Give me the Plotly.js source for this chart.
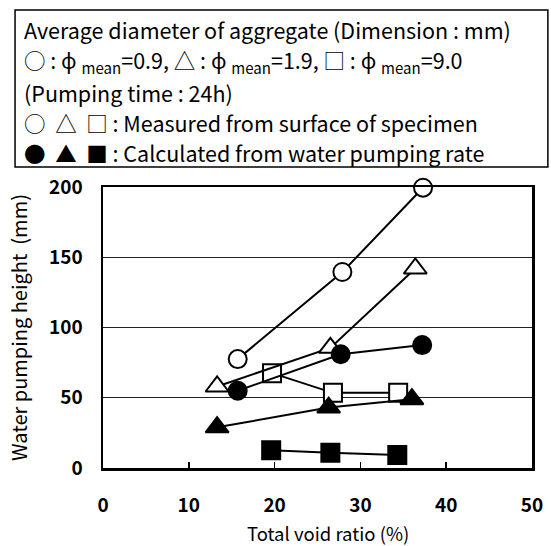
<!DOCTYPE html>
<html>
<head>
<meta charset="utf-8">
<script src="https://cdn.plot.ly/plotly-3.0.1.min.js"></script>
<style>
  html, body { margin: 0; padding: 0; background: #fff; }
  #chart { width: 551px; height: 546px; }
</style>
</head>
<body>
<div id="chart"></div>
<script>
// Total void ratio (%) and water pumping height (mm) after 24 h of pumping
const measured09X = [15.7, 27.9, 37.3];
const measured09Y = [77.5, 139.5, 199.5];
const measured19X = [13.3, 26.5, 36.4];
const measured19Y = [58, 85.5, 142];
const measured90X = [19.7, 26.8, 34.4];
const measured90Y = [67.5, 53.5, 53.5];
const calculated09X = [15.7, 27.7, 37.2];
const calculated09Y = [55, 81, 87.5];
const calculated19X = [13.3, 26.3, 36.0];
const calculated19Y = [29, 43, 49];
const calculated90X = [19.6, 26.5, 34.3];
const calculated90Y = [12.7, 10.8, 9.3];

const xTicks = [0, 10, 20, 30, 40, 50];
const yTicks = [0, 50, 100, 150, 200];

const xTitle = "Total void ratio (%)";
const yTitle = "Water pumping height  (mm)";

const legendLines = [
  "Average diameter of aggregate (Dimension : mm)",
  "○ : ϕ <sub>mean</sub>=0.9, △ : ϕ <sub>mean</sub>=1.9, □ : ϕ <sub>mean</sub>=9.0",
  "(Pumping time : 24h)",
  "○\u00a0\u00a0△\u00a0\u00a0□ : Measured from surface of specimen",
  "●\u00a0\u00a0▲\u00a0\u00a0■ : Calculated from water pumping rate"
];

const FONT = "'Noto Sans CJK JP', 'Noto Sans', sans-serif";

function series(x, y, symbol, filled) {
  return {
    x: x, y: y, type: "scatter", mode: "lines+markers",
    line: { color: "#000", width: 2 },
    marker: {
      symbol: symbol,
      size: symbol === "triangle-up" ? 20 : 18,
      color: filled ? "#000" : "#fff",
      line: { color: "#000", width: 2 }
    },
    hoverinfo: "x+y", showlegend: false, cliponaxis: false
  };
}

const traces = [
  series(measured90X, measured90Y, "square", false),
  series(measured19X, measured19Y, "triangle-up", false),
  series(measured09X, measured09Y, "circle", false),
  series(calculated90X, calculated90Y, "square", true),
  series(calculated19X, calculated19Y, "triangle-up", true),
  series(calculated09X, calculated09Y, "circle", true)
];

// legend box rows (paper coordinates relative to the plot area)
const rowY = [1.559, 1.447, 1.338, 1.228, 1.121];
const annotations = legendLines.map((t, i) => ({
  text: t, xref: "paper", yref: "paper",
  x: -0.188, y: rowY[i], xanchor: "left", yanchor: "middle",
  showarrow: false, font: { family: FONT, size: 21.5, color: "#000" }
}));

// x axis title, set a little right of the plot centre
annotations.push({
  text: xTitle, xref: "paper", yref: "paper",
  x: 0.524, y: -0.232, xanchor: "center", yanchor: "middle",
  showarrow: false, font: { family: FONT, size: 18.5, color: "#000" }
});

const layout = {
  width: 551, height: 546,
  margin: { l: 103, r: 19, t: 187, b: 78 },
  paper_bgcolor: "#fff", plot_bgcolor: "#fff",
  showlegend: false,
  font: { family: FONT, color: "#000" },
  xaxis: {
    range: [0, 50], tickvals: xTicks, ticktext: xTicks.map(String),
    ticks: "inside", ticklen: 6, tickwidth: 1.5, tickcolor: "#000",
    ticklabelstandoff: 19,
    showgrid: false, zeroline: false,
    showline: true, mirror: true, linecolor: "#000", linewidth: 2.5,
    tickfont: { family: FONT, size: 19, color: "#000", weight: "bold" },
    automargin: false, fixedrange: true
  },
  yaxis: {
    range: [0, 200], tickvals: yTicks, ticktext: yTicks.map(String),
    ticks: "", ticklabelstandoff: 14,
    showgrid: true, gridcolor: "#222", gridwidth: 1.3, zeroline: false,
    showline: true, mirror: true, linecolor: "#000", linewidth: 2.5,
    tickfont: { family: FONT, size: 19, color: "#000", weight: "bold" },
    title: { text: yTitle, standoff: 16,
             font: { family: FONT, size: 20, color: "#000" } },
    automargin: false, fixedrange: true
  },
  shapes: [{
    type: "rect", xref: "paper", yref: "paper",
    x0: -0.205, x1: 1.037, y0: 1.071, y1: 1.630,
    line: { color: "#000", width: 1.5 }, fillcolor: "rgba(0,0,0,0)"
  }],
  annotations: annotations
};

Plotly.newPlot("chart", traces, layout, { displayModeBar: false, staticPlot: true });
</script>
</body>
</html>
